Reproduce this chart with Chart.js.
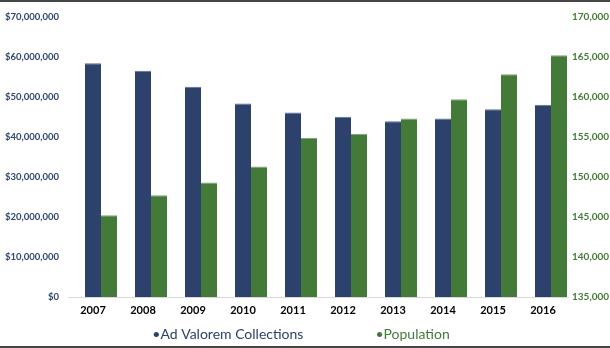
<!DOCTYPE html>
<html>
<head>
<meta charset="utf-8">
<script src="https://cdn.jsdelivr.net/npm/chart.js@4.4.0/dist/chart.umd.min.js"></script>
<style>
  html, body { margin: 0; padding: 0; background: #fff; }
  #wrap { width: 610px; height: 344px; border-top: 2px solid #464646; border-bottom: 2px solid #464646; position: relative; }
  canvas { display: block; }
</style>
</head>
<body>
<div id="wrap"><canvas id="c" width="610" height="344"></canvas></div>
<script>
const years = ['2007','2008','2009','2010','2011','2012','2013','2014','2015','2016'];
const adValorem = [58400000, 56500000, 52500000, 48300000, 46100000, 45000000, 43900000, 44600000, 46900000, 48000000];
const population = [145200, 147700, 149300, 151300, 154900, 155400, 157300, 159700, 162800, 165200];
const blank = [null, null, null, null, null, null, null, null, null, null];
const seriesNames = ['Ad Valorem Collections', 'Population'];

const BLUE = '#2c416c';
const GREEN = '#447a37';
const FONT = 'Lato, "Open Sans", "DejaVu Sans", sans-serif';

// simple bottom legend drawn as text: "•Name"
const bulletLegend = {
  id: 'bulletLegend',
  afterDraw(chart) {
    const ctx = chart.ctx;
    const items = chart.data.datasets.filter(d => !d.label.startsWith('_'));
    ctx.save();
    ctx.font = '14px ' + FONT;
    ctx.textBaseline = 'middle';
    const gap = 72;
    const texts = items.map(d => '\u2022' + d.label);
    const widths = texts.map(t => ctx.measureText(t).width);
    const total = widths.reduce((a, b) => a + b, 0) + gap * (texts.length - 1);
    let x = chart.width / 2 - 4 - total / 2;
    const y = chart.height - 12;
    texts.forEach((t, i) => {
      ctx.fillStyle = items[i].backgroundColor;
      ctx.fillText(t, x, y);
      x += widths[i] + gap;
    });
    ctx.restore();
  }
};

new Chart(document.getElementById('c'), {
  type: 'bar',
  data: {
    labels: years,
    datasets: [
      { label: '_spacer', data: blank, yAxisID: 'y', backgroundColor: 'transparent' },
      { label: seriesNames[0], data: adValorem, yAxisID: 'y', backgroundColor: BLUE, borderColor: '#5a6d96', borderWidth: {top: 1, left: 0, right: 0, bottom: 0} },
      { label: seriesNames[1], data: population, yAxisID: 'y1', backgroundColor: GREEN, borderColor: '#7aa06f', borderWidth: {top: 1, left: 0, right: 0, bottom: 0} }
    ]
  },
  plugins: [bulletLegend],
  options: {
    responsive: false,
    animation: false,
    devicePixelRatio: 1,
    layout: { padding: { top: 9, left: 0, right: 0, bottom: 25 } },
    datasets: { bar: { categoryPercentage: 0.96, barPercentage: 1.0 } },
    plugins: {
      tooltip: { enabled: false },
      legend: { display: false }
    },
    scales: {
      x: {
        grid: { display: false, drawTicks: false },
        border: { display: true, color: '#d9d9d9', width: 1 },
        ticks: { color: '#000', font: { family: FONT, size: 11, weight: 'bold' }, padding: 7 },
        afterFit: s => { s.height = 24; }
      },
      y: {
        position: 'left',
        min: 0, max: 70000000,
        grid: { display: false, drawTicks: false },
        border: { display: false },
        ticks: {
          stepSize: 10000000,
          padding: 9,
          color: '#2e4473',
          font: { family: FONT, size: 9.5, weight: 'bold' },
          callback: v => '$' + Number(v).toLocaleString('en-US')
        },
        afterFit: s => { s.width = 68; }
      },
      y1: {
        position: 'right',
        min: 135000, max: 170000,
        grid: { display: false, drawTicks: false },
        border: { display: false },
        ticks: {
          stepSize: 5000,
          padding: 4,
          color: '#437a34',
          font: { family: FONT, size: 10, weight: 'bold' },
          callback: v => Number(v).toLocaleString('en-US')
        },
        afterFit: s => { s.width = 42; }
      }
    }
  }
});
</script>
</body>
</html>
